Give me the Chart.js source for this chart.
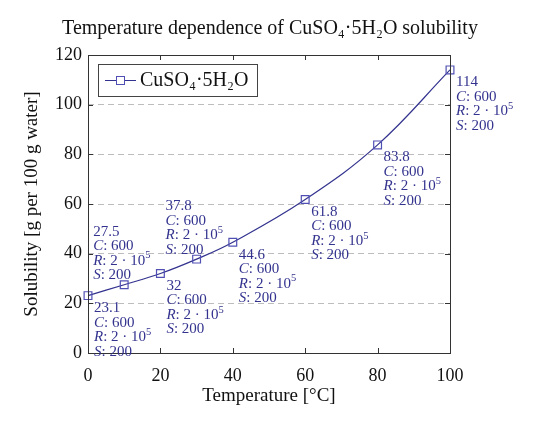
<!DOCTYPE html>
<html>
<head>
<meta charset="utf-8">
<script src="https://cdn.jsdelivr.net/npm/chart.js@4.4.1/dist/chart.umd.min.js"></script>
<style>
  html, body { margin: 0; padding: 0; background: #fff; }
</style>
</head>
<body>
<canvas id="solubility" width="540" height="424"></canvas>
<script>
// data
const temperatures = [0, 10, 20, 30, 40, 60, 80, 100];
const solubility = [23.1, 27.5, 32, 37.8, 44.6, 61.8, 83.8, 114];
const cValues = [600, 600, 600, 600, 600, 600, 600, 600];
const rMantissa = [2, 2, 2, 2, 2, 2, 2, 2];
const rExponent = [5, 5, 5, 5, 5, 5, 5, 5];
const sValues = [200, 200, 200, 200, 200, 200, 200, 200];
const xTicks = [0, 20, 40, 60, 80, 100];
const yTicks = [0, 20, 40, 60, 80, 100, 120];

const seriesName = 'CuSO₄·5H₂O';
const blue = '#33338f';
const serif = "'Liberation Serif', 'DejaVu Serif', serif";

// labels sit below-right of their point, except these which sit above
const labelsAbove = [1, 3];

const frameAndLabels = {
  id: 'frameAndLabels',
  afterDatasetsDraw(chart) {
    const { ctx, chartArea: a, scales } = chart;
    ctx.save();
    // box around plot + inward ticks
    ctx.strokeStyle = '#333';
    ctx.lineWidth = 1;
    ctx.strokeRect(a.left + 0.5, a.top + 0.5, a.right - a.left, a.bottom - a.top);
    ctx.beginPath();
    xTicks.forEach(v => {
      const px = Math.round(scales.x.getPixelForValue(v)) + 0.5;
      ctx.moveTo(px, a.bottom); ctx.lineTo(px, a.bottom - 5);
      ctx.moveTo(px, a.top); ctx.lineTo(px, a.top + 5);
    });
    yTicks.forEach(v => {
      const py = Math.round(scales.y.getPixelForValue(v)) + 0.5;
      ctx.moveTo(a.left, py); ctx.lineTo(a.left + 5, py);
      ctx.moveTo(a.right, py); ctx.lineTo(a.right - 5, py);
    });
    ctx.stroke();

    // point annotations
    const meta = chart.getDatasetMeta(0);
    const lh = 14.5;
    ctx.fillStyle = blue;
    ctx.textBaseline = 'middle';
    ctx.textAlign = 'left';
    meta.data.forEach((pt, i) => {
      let x0, y0;
      if (labelsAbove.includes(i)) {
        x0 = pt.x - 31;
        y0 = pt.y - 53;
      } else {
        x0 = pt.x + 6;
        y0 = pt.y + 12.5;
      }
      const normal = '15px ' + serif;
      const italic = 'italic 15px ' + serif;
      ctx.font = normal;
      ctx.fillText(String(solubility[i]), x0, y0);

      const pieces = [
        [['C', italic], [': ' + cValues[i], normal]],
        [['R', italic], [': ' + rMantissa[i] + ' · 10', normal], [String(rExponent[i]), '10.5px ' + serif, -5]],
        [['S', italic], [': ' + sValues[i], normal]]
      ];
      pieces.forEach((line, k) => {
        let x = x0;
        const y = y0 + lh * (k + 1);
        line.forEach(([txt, font, dy]) => {
          ctx.font = font;
          ctx.fillText(txt, x, y + (dy || 0));
          x += ctx.measureText(txt).width;
        });
      });
    });

    // legend box in upper left corner
    const lx = a.left + 10, ly = a.top + 9;
    ctx.strokeStyle = '#444';
    ctx.strokeRect(lx + 0.5, ly + 0.5, 159, 32);
    const my = ly + 16;
    ctx.strokeStyle = blue;
    ctx.beginPath();
    ctx.moveTo(lx + 7, my + 0.5); ctx.lineTo(lx + 38, my + 0.5);
    ctx.stroke();
    ctx.fillStyle = '#fff';
    ctx.fillRect(lx + 18.5, my - 3.5, 8, 8);
    ctx.strokeStyle = '#5050b4';
    ctx.strokeRect(lx + 18.5, my - 3.5, 8, 8);
    ctx.fillStyle = '#111';
    ctx.font = '20px ' + serif;
    ctx.fillText(seriesName, lx + 42, my + 1);
    ctx.restore();
  }
};

new Chart(document.getElementById('solubility'), {
  type: 'line',
  data: {
    labels: temperatures,
    datasets: [{
      label: seriesName,
      data: temperatures.map((t, i) => ({ x: t, y: solubility[i] })),
      borderColor: blue,
      borderWidth: 1.2,
      tension: 0.4,
      pointStyle: 'rect',
      pointRadius: 5.5,
      pointBorderWidth: 1.2,
      pointBorderColor: '#5050b4',
      pointBackgroundColor: 'rgba(255,255,255,0)',
      fill: false,
      clip: false
    }]
  },
  options: {
    responsive: false,
    animation: false,
    devicePixelRatio: 1,
    layout: {
      autoPadding: false,
      padding: 0
    },
    plugins: {
      legend: { display: false },
      tooltip: { enabled: false },
      title: {
        display: true,
        text: 'Temperature dependence of CuSO₄·5H₂O solubility',
        color: '#111',
        font: { family: serif, size: 20, weight: 'normal' },
        padding: { top: 17, bottom: 14 }
      }
    },
    scales: {
      x: {
        type: 'linear',
        min: 0,
        max: 100,
        afterBuildTicks: s => { s.ticks = xTicks.map(v => ({ value: v })); },
        afterFit: s => { s.height = 71; },
        grid: { display: false },
        border: { display: false },
        ticks: { color: '#111', font: { family: serif, size: 18 }, padding: 4 },
        title: {
          display: true,
          text: 'Temperature [°C]',
          color: '#111',
          font: { family: serif, size: 19 },
          padding: { top: 0, bottom: 17 }
        }
      },
      y: {
        min: 0,
        max: 120,
        afterBuildTicks: s => { s.ticks = yTicks.map(v => ({ value: v })); },
        afterFit: s => { s.width = 88; },
        grid: {
          drawTicks: false,
          color: ctx => (ctx.tick && (ctx.tick.value === 0 || ctx.tick.value === 120)) ? 'rgba(0,0,0,0)' : '#bdbdbd',
          lineWidth: 1
        },
        border: { display: false, dash: [6, 4] },
        ticks: { color: '#111', font: { family: serif, size: 18 }, padding: 6 },
        title: {
          display: true,
          text: 'Solubility [g per 100 g water]',
          color: '#111',
          font: { family: serif, size: 19 },
          padding: { top: 21, bottom: 0 }
        }
      },
      // empty right-hand axis only reserves the margin used by the labels
      yRight: {
        position: 'right',
        min: 0,
        max: 120,
        afterFit: s => { s.width = 90; },
        grid: { display: false },
        border: { display: false },
        ticks: { display: false }
      }
    }
  },
  plugins: [frameAndLabels]
});
</script>
</body>
</html>
